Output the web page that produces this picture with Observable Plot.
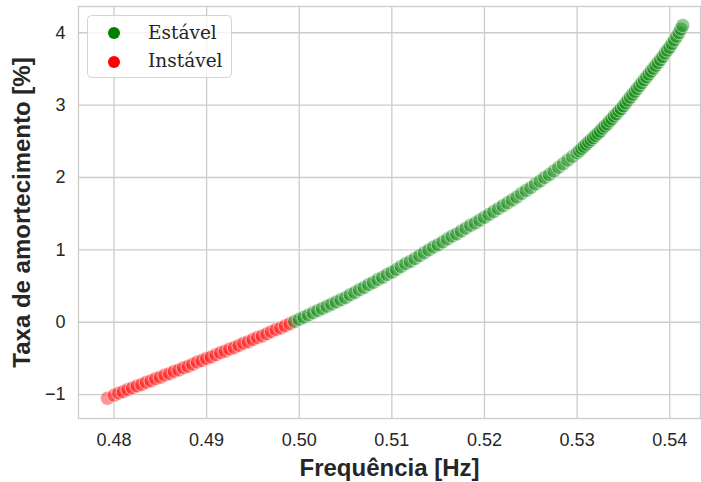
<!DOCTYPE html>
<html><head><meta charset="utf-8">
<script src="https://cdn.jsdelivr.net/npm/d3@7"></script>
<script src="https://cdn.jsdelivr.net/npm/@observablehq/plot@0.6"></script>
<style>
body{margin:0;background:#fff;}
#wrap{position:relative;width:701px;height:482px;}
#legend{position:absolute;left:0;top:0;pointer-events:none;}
</style>
</head><body>
<div id="wrap"></div>
<script>
const freq = [
0.4793,0.4800,0.4805,0.4810,0.4815,0.4820,0.4825,0.4830,0.4835,0.4840,0.4845,0.4850,0.4855,0.4860,0.4865,0.4870,0.4875,0.4880,0.4885,0.4890,0.4895,
0.4900,0.4905,0.4910,0.4915,0.4920,0.4925,0.4930,0.4935,0.4940,0.4945,0.4950,0.4955,0.4960,0.4965,0.4970,0.4975,0.4980,0.4985,0.4990,0.4995,
0.5000,0.5005,0.5010,0.5015,0.5020,0.5025,0.5030,0.5035,0.5040,0.5045,0.5050,0.5055,0.5060,0.5065,0.5070,0.5075,0.5080,0.5085,0.5090,0.5095,
0.5100,0.5105,0.5110,0.5115,0.5120,0.5125,0.5130,0.5135,0.5140,0.5145,0.5150,0.5155,0.5160,0.5165,0.5170,0.5175,0.5180,0.5185,0.5190,0.5195,
0.5200,0.5205,0.5210,0.5215,0.5220,0.5225,0.5230,0.5235,0.5240,0.5245,0.5250,0.5255,0.5260,0.5265,0.5270,0.5275,0.5280,0.5285,0.5290,0.5295,
0.5300,0.53025,0.5305,0.53075,0.5310,0.53125,0.5315,0.53175,0.5320,0.53225,0.5325,0.53275,0.5330,0.53325,0.5335,0.53375,0.5340,0.53425,0.5345,0.53475,
0.5350,0.53525,0.5355,0.53575,0.5360,0.53625,0.5365,0.53675,0.5370,0.53725,0.5375,0.53775,0.5380,0.53825,0.5385,0.53875,0.5390,0.53925,0.5395,0.53975,
0.5400,0.54025,0.5405,0.54075,0.5410,0.5412,0.5414
];
const amortecimento = [
-1.05,-1.01,-0.98,-0.96,-0.93,-0.91,-0.88,-0.86,-0.83,-0.81,-0.78,-0.76,-0.73,-0.71,-0.68,-0.66,-0.63,-0.61,-0.58,-0.55,-0.53,
-0.50,-0.48,-0.45,-0.42,-0.40,-0.37,-0.35,-0.32,-0.29,-0.27,-0.24,-0.21,-0.19,-0.16,-0.13,-0.10,-0.08,-0.05,-0.02,0.01,
0.04,0.07,0.10,0.13,0.16,0.19,0.22,0.25,0.28,0.31,0.34,0.38,0.41,0.45,0.48,0.52,0.55,0.59,0.62,0.66,
0.69,0.73,0.77,0.81,0.84,0.88,0.92,0.96,1.00,1.04,1.07,1.11,1.15,1.19,1.22,1.26,1.30,1.34,1.37,1.41,
1.45,1.49,1.53,1.57,1.61,1.65,1.69,1.73,1.78,1.82,1.86,1.91,1.95,2.00,2.04,2.09,2.14,2.19,2.24,2.29,
2.34,2.37,2.40,2.43,2.46,2.49,2.52,2.55,2.58,2.61,2.64,2.68,2.71,2.74,2.78,2.81,2.85,2.88,2.92,2.95,
2.99,3.03,3.07,3.11,3.15,3.19,3.23,3.27,3.31,3.35,3.39,3.43,3.47,3.51,3.55,3.59,3.63,3.67,3.72,3.76,
3.80,3.85,3.90,3.95,4.00,4.05,4.10
];
const estados = ["Estável", "Instável"];
const cores = ["green", "red"];
const xTicks = [0.48, 0.49, 0.50, 0.51, 0.52, 0.53, 0.54];
const yTicks = [-1, 0, 1, 2, 3, 4];
const xLabel = "Frequência [Hz]";
const yLabel = "Taxa de amortecimento [%]";

const data = freq.map((f, i) => ({f, a: amortecimento[i], estado: amortecimento[i] >= 0 ? estados[0] : estados[1]}));

const grid = {stroke: "#cccccc", strokeOpacity: 1, strokeWidth: 1.3};
const chart = Plot.plot({
  width: 701, height: 482,
  marginLeft: 78, marginRight: 1, marginTop: 6, marginBottom: 64,
  style: {fontFamily: "'Liberation Sans', Arial, sans-serif", color: "#262626", background: "white"},
  x: {domain: [0.47617, 0.54332]},
  y: {domain: [-1.33, 4.363]},
  color: {domain: estados, range: cores},
  marks: [
    Plot.gridX(xTicks, grid),
    Plot.gridY(yTicks, grid),
    Plot.frame({stroke: "#cccccc", strokeWidth: 1.3}),
    Plot.axisX(xTicks, {tickSize: 0, tickPadding: 15, fontSize: 18, tickFormat: d3.format(".2f"), label: null}),
    Plot.axisY(yTicks, {tickSize: 0, tickPadding: 13, fontSize: 18, tickFormat: d3.format("d"), label: null}),
    Plot.dot(data, {x: "f", y: "a", fill: "estado", r: 7, fillOpacity: 0.42, stroke: "white", strokeOpacity: 0.5, strokeWidth: 1}),
    Plot.text([xLabel], {text: d => d, frameAnchor: "bottom", textAnchor: "middle", dy: 49.5, fontSize: 24, fontWeight: "bold", lineAnchor: "middle", fill: "#262626"}),
    Plot.text([yLabel], {text: d => d, frameAnchor: "left", textAnchor: "middle", dx: -56.5, rotate: -90, fontSize: 24, fontWeight: "bold", lineAnchor: "middle", fill: "#262626"})
  ]
});
const wrap = document.getElementById("wrap");
wrap.appendChild(chart);

// legend overlay
const ns = "http://www.w3.org/2000/svg";
const lg = document.createElementNS(ns, "svg");
lg.setAttribute("id", "legend");
lg.setAttribute("width", 701); lg.setAttribute("height", 100);
const box = document.createElementNS(ns, "rect");
Object.entries({x: 87.5, y: 15.5, width: 144, height: 62, rx: 4, fill: "white", "fill-opacity": 0.8, stroke: "#d3d3d3", "stroke-width": 1}).forEach(([k, v]) => box.setAttribute(k, v));
lg.appendChild(box);
estados.forEach((e, i) => {
  const c = document.createElementNS(ns, "circle");
  Object.entries({cx: 114, cy: 33 + i * 29, r: 6, fill: cores[i]}).forEach(([k, v]) => c.setAttribute(k, v));
  lg.appendChild(c);
  const t = document.createElementNS(ns, "text");
  Object.entries({x: 148, y: 38.5 + i * 28.5, fill: "#262626", "font-family": "'DejaVu Serif', serif", "font-size": 18.5}).forEach(([k, v]) => t.setAttribute(k, v));
  t.textContent = e;
  lg.appendChild(t);
});
wrap.appendChild(lg);
</script>
</body></html>
